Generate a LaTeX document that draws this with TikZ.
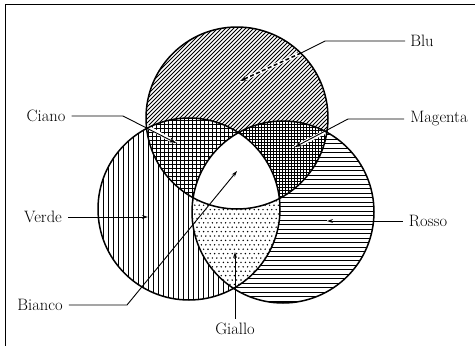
\documentclass[tikz,border=0pt]{standalone}
\usetikzlibrary{arrows.meta}
\begin{document}
\begin{tikzpicture}[x=1pt,y=-1pt,
  lbl/.style={font=\fontsize{16.5}{19}\selectfont, inner sep=0pt},
  hatch/.style={line width=0.9pt},
  ring/.style={line width=1.5pt},
  lead/.style={line width=0.9pt},
  halo/.style={white, line width=3.6pt},
  blk/.style={-{Stealth[length=6pt,width=3.8pt]}},
  wht/.style={-{Stealth[length=7pt,width=5pt,fill=white]}}]
\useasboundingbox (0,0) rectangle (475,346);
\def\Bc{(237,118) circle[radius=91pt]}
\def\Gc{(189,209) circle[radius=91pt]}
\def\Rc{(283,212) circle[radius=91pt]}
% frame
\draw[line width=0.9pt] (5,346) -- (5,4) -- (475,4);
% blue only: diagonals
\begin{scope}
  \clip \Bc;
  \foreach \c in {170,174,...,542} \draw[hatch] (\c-20,20) -- (\c-215,215);
\end{scope}
% green: vertical
\begin{scope}
  \clip \Gc; \fill[white] \Gc;
  \foreach \x in {98,103,...,283} \draw[hatch] (\x,110) -- (\x,305);
\end{scope}
% red: horizontal
\begin{scope}
  \clip \Rc; \fill[white] \Rc;
  \foreach \y in {121,125.5,...,305} \draw[hatch] (185,\y) -- (380,\y);
\end{scope}
% cyan: grid
\begin{scope}
  \clip \Bc; \clip \Gc; \fill[white] \Gc;
  \foreach \x in {140,144,...,248} \draw[hatch] (\x,112) -- (\x,215);
  \foreach \y in {112,116,...,215} \draw[hatch] (140,\y) -- (248,\y);
\end{scope}
% magenta: dense grid
\begin{scope}
  \clip \Bc; \clip \Rc; \fill[white] \Rc;
  \foreach \x in {228,231,...,336} \draw[hatch] (\x,112) -- (\x,215);
  \foreach \y in {112,115,...,215} \draw[hatch] (228,\y) -- (336,\y);
\end{scope}
% yellow: dots
\begin{scope}
  \clip \Gc; \clip \Rc; \fill[white] \Rc;
  \foreach \j [evaluate=\j as \yy using {126+\j*4.4}, evaluate=\j as \off using {mod(\j,2)*2.2}] in {0,...,41}
    {\foreach \i in {0,...,23} \fill (186+\i*4.4+\off,\yy) circle[radius=0.8pt];}
\end{scope}
% white centre
\begin{scope}
  \clip \Bc; \clip \Gc; \fill[white] \Rc;
\end{scope}
% labels and leader points
\node[lbl] (blu) at (422,41) {Blu};
\node[lbl] (ciano) at (46,116) {Ciano};
\node[lbl] (magenta) at (439,119) {Magenta};
\node[lbl] (verde) at (43,217) {Verde};
\node[lbl] (rosso) at (428,221) {Rosso};
\node[lbl] (bianco) at (40,305) {Bianco};
\node[lbl] (giallo) at (235,329) {Giallo};
\coordinate (bluK) at (325,41);
\coordinate (bluE) at (301,53);
\coordinate (bluT) at (240,81);
\coordinate (cianoK) at (123,116);
\coordinate (cianoE) at (146,126);
\coordinate (cianoT) at (176,143);
\coordinate (magK) at (348,119);
\coordinate (magE) at (327,131);
\coordinate (magT) at (295,147);
\coordinate (verdeT) at (148,217);
\coordinate (rossoE) at (373,221);
\coordinate (rossoT) at (327,221);
\coordinate (biancoK) at (127,305);
\coordinate (biancoT) at (237,171);
\coordinate (gialloT) at (235,252);
% halos
\draw[halo] (bluE) -- (bluT);
\draw[halo] (cianoE) -- (cianoT);
\draw[halo] (magE) -- (magT);
\draw[halo] (rossoE) -- (rossoT);
% circle outlines
\draw[ring] \Bc;
\draw[ring] \Gc;
\draw[ring] \Rc;
% leaders
\draw[lead] ([xshift=-5pt]blu.west) -- (bluK) -- (bluE);
\draw[lead, line width=1.5pt, dash pattern=on 4pt off 2.5pt, wht] (bluE) -- (bluT);
\draw[lead, wht] ([xshift=6pt]ciano.east) -- (cianoK) -- (cianoT);
\draw[lead, wht] ([xshift=-6pt]magenta.west) -- (magK) -- (magT);
\draw[lead, blk] ([xshift=6pt]verde.east) -- (verdeT);
\draw[lead, blk] ([xshift=-6pt]rosso.west) -- (rossoT);
\draw[lead, blk] ([xshift=6pt]bianco.east) -- (biancoK) -- (biancoT);
\draw[lead, blk] ([yshift=4pt]giallo.north) -- (gialloT);
\end{tikzpicture}
\end{document}
